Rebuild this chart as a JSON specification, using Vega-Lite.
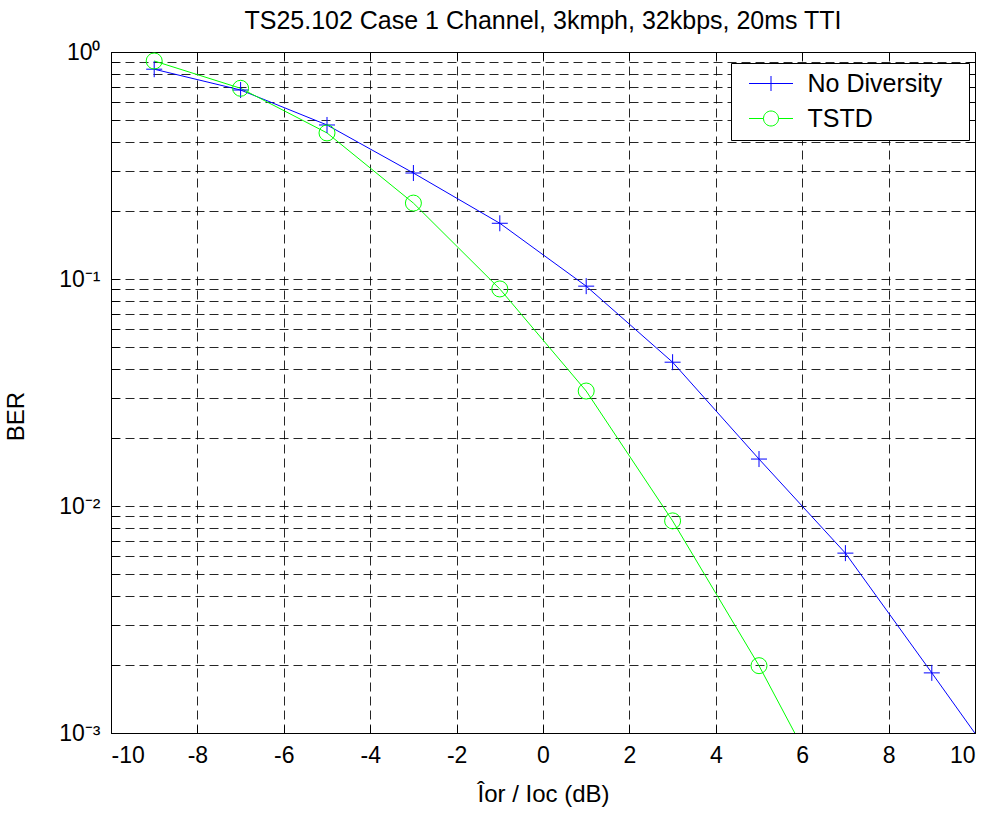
{
  "$schema": "https://vega.github.io/schema/vega-lite/v6.json",
  "width": 864,
  "height": 681,
  "autosize": "none",
  "padding": {"left": 111, "top": 52, "right": 21, "bottom": 92},
  "background": "white",
  "title": {"text": "TS25.102 Case 1 Channel, 3kmph, 32kbps, 20ms TTI", "font": "Liberation Sans", "fontSize": 25, "fontWeight": "normal", "color": "black", "offset": 7, "anchor": "middle"},
  "config": {
    "view": {"stroke": "black", "strokeWidth": 1},
    "font": "Liberation Sans",
    "axis": {
      "domain": false,
      "labelFont": "Liberation Sans",
      "labelFontSize": 23,
      "labelColor": "black",
      "tickColor": "black",
      "tickSize": -8,
      "gridColor": "black",
      "gridDash": [9, 5],
      "gridWidth": 1,
      "gridOpacity": 0.85,
      "titleFont": "Liberation Sans",
      "titleFontSize": 24,
      "titleFontWeight": "normal",
      "titleColor": "black"
    }
  },
  "data": {"values": [
    {"series": "No Diversity", "x": -9, "y": 0.84},
    {"series": "No Diversity", "x": -7, "y": 0.68},
    {"series": "No Diversity", "x": -5, "y": 0.477},
    {"series": "No Diversity", "x": -3, "y": 0.293},
    {"series": "No Diversity", "x": -1, "y": 0.176},
    {"series": "No Diversity", "x": 1, "y": 0.093},
    {"series": "No Diversity", "x": 3, "y": 0.043},
    {"series": "No Diversity", "x": 5, "y": 0.0161},
    {"series": "No Diversity", "x": 7, "y": 0.0062},
    {"series": "No Diversity", "x": 9, "y": 0.00184},
    {"series": "No Diversity", "x": 11, "y": 0.00054},
    {"series": "TSTD", "x": -9, "y": 0.913},
    {"series": "TSTD", "x": -7, "y": 0.692},
    {"series": "TSTD", "x": -5, "y": 0.44},
    {"series": "TSTD", "x": -3, "y": 0.216},
    {"series": "TSTD", "x": -1, "y": 0.0904},
    {"series": "TSTD", "x": 1, "y": 0.0321},
    {"series": "TSTD", "x": 3, "y": 0.0086},
    {"series": "TSTD", "x": 5, "y": 0.00198},
    {"series": "TSTD", "x": 7, "y": 0.00038}
  ]},
  "layer": [
    {
      "mark": {"type": "line", "clip": true, "strokeWidth": 1},
      "encoding": {
        "x": {"field": "x", "type": "quantitative", "scale": {"domain": [-10, 10], "nice": false, "zero": false},
          "axis": {"orient": "bottom", "values": [-10, -8, -6, -4, -2, 0, 2, 4, 6, 8, 10], "labelExpr": "'' + datum.value", "title": "Îor / Ioc (dB)", "grid": true, "labelPadding": 19, "titlePadding": 15}},
        "y": {"field": "y", "type": "quantitative", "scale": {"type": "log", "domain": [0.001, 1], "nice": false},
          "axis": {"orient": "left", "values": [0.001, 0.002, 0.003, 0.004, 0.005, 0.006, 0.007, 0.008, 0.009, 0.01, 0.02, 0.03, 0.04, 0.05, 0.06, 0.07, 0.08, 0.09, 0.1, 0.2, 0.3, 0.4, 0.5, 0.6, 0.7, 0.8, 0.9, 1],
            "labelExpr": "datum.value == 1 ? '10⁰' : datum.value == 0.1 ? '10⁻¹' : datum.value == 0.01 ? '10⁻²' : datum.value == 0.001 ? '10⁻³' : ''",
            "title": "BER", "grid": true, "labelPadding": 19, "titlePadding": 30, "titleY": 364}},
        "color": {"field": "series", "type": "nominal", "scale": {"domain": ["No Diversity", "TSTD"], "range": ["#0000ff", "#00ff00"]},
          "legend": {
            "orient": "none", "legendX": 620, "legendY": 11, "title": null,
            "fillColor": "white", "strokeColor": "black", "padding": 8,
            "labelFont": "Liberation Sans", "labelFontSize": 25, "labelColor": "black",
            "labelExpr": "datum.label + '\u2800'",
            "symbolSize": 400, "rowPadding": 9, "labelOffset": 24, "symbolOffset": 19.5,
            "symbolStrokeWidth": 1,
            "encode": {"symbols": {"update": {
              "shape": {"signal": "datum.value === 'TSTD' ? 'M-2.2,0H-0.75M0.75,0H2.2M-0.75,0A0.75,0.75 0 1,1 0.75,0A0.75,0.75 0 1,1 -0.75,0' : 'M-2.2,0H2.2M0,-0.75V0.75'"},
              "fill": {"value": "transparent"},
              "strokeWidth": {"value": 1}
            }}}
          }}
      }
    },
    {
      "transform": [{"filter": "datum.series === 'No Diversity'"}],
      "mark": {"type": "point", "clip": true, "filled": false, "strokeWidth": 1, "size": 256, "opacity": 1, "shape": "M-1,0H1M0,-1V1"},
      "encoding": {
        "x": {"field": "x", "type": "quantitative",
          "axis": {"orient": "top", "values": [-10, -8, -6, -4, -2, 0, 2, 4, 6, 8, 10], "labels": false, "grid": false, "title": null}},
        "y": {"field": "y", "type": "quantitative",
          "axis": {"orient": "right", "values": [0.001, 0.002, 0.003, 0.004, 0.005, 0.006, 0.007, 0.008, 0.009, 0.01, 0.02, 0.03, 0.04, 0.05, 0.06, 0.07, 0.08, 0.09, 0.1, 0.2, 0.3, 0.4, 0.5, 0.6, 0.7, 0.8, 0.9, 1], "labels": false, "grid": false, "title": null}},
        "color": {"field": "series", "type": "nominal"}
      }
    },
    {
      "transform": [{"filter": "datum.series === 'TSTD'"}],
      "mark": {"type": "point", "clip": true, "filled": false, "strokeWidth": 1, "size": 256, "opacity": 1, "shape": "circle"},
      "encoding": {
        "x": {"field": "x", "type": "quantitative", "axis": null},
        "y": {"field": "y", "type": "quantitative", "axis": null},
        "color": {"field": "series", "type": "nominal"}
      }
    }
  ],
  "resolve": {"axis": {"x": "independent", "y": "independent"}}
}
